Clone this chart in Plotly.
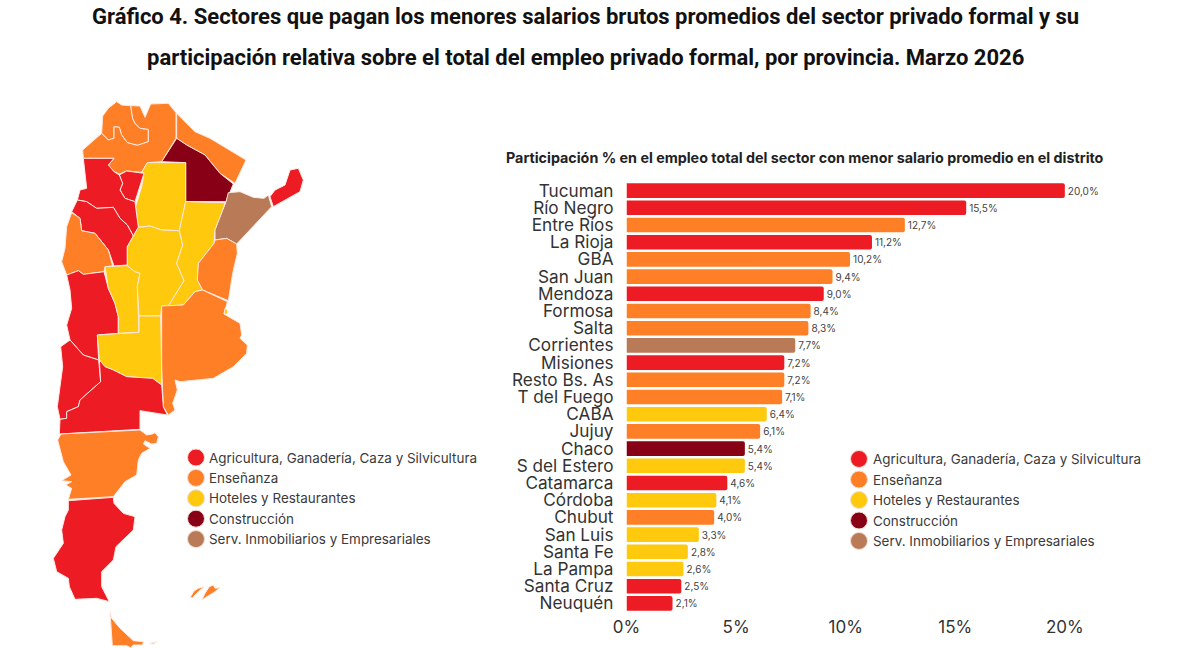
import plotly.graph_objects as go

# ---- Sectors and colours ----
sector_names = [
    "Agricultura, Ganadería, Caza y Silvicultura",
    "Enseñanza",
    "Hoteles y Restaurantes",
    "Construcción",
    "Serv. Inmobiliarios y Empresariales",
]
AGR, ENS, HOT, CON, INM = sector_names
sector_colors = {AGR: "#ED1C24", ENS: "#FF7F27", HOT: "#FFC90E", CON: "#880015", INM: "#B97A57"}

# ---- Bar chart data ----
districts = ["Tucuman", "Río Negro", "Entre Ríos", "La Rioja", "GBA", "San Juan", "Mendoza",
             "Formosa", "Salta", "Corrientes", "Misiones", "Resto Bs. As", "T del Fuego", "CABA",
             "Jujuy", "Chaco", "S del Estero", "Catamarca", "Córdoba", "Chubut", "San Luis",
             "Santa Fe", "La Pampa", "Santa Cruz", "Neuquén"]
shares = [20.0, 15.5, 12.7, 11.2, 10.2, 9.4, 9.0, 8.4, 8.3, 7.7, 7.2, 7.2, 7.1, 6.4, 6.1,
          5.4, 5.4, 4.6, 4.1, 4.0, 3.3, 2.8, 2.6, 2.5, 2.1]
district_sector = [AGR, AGR, ENS, AGR, ENS, ENS, AGR, ENS, ENS, INM, AGR, ENS, ENS, HOT, ENS,
                   CON, HOT, AGR, HOT, ENS, HOT, HOT, HOT, AGR, AGR]
x_ticks = [0, 5, 10, 15, 20]

# ---- Province outlines, in map grid units, with their sector ----
province_shapes = [
    ("Jujuy", ENS, [(188,78),(205,55),(230,35),(245,45),(272,47),(278,85),(285,100),(300,115),(325,118),(325,155),(292,166),(262,158),(245,135),(238,112),(222,110),(222,145),(205,150),(185,130)]),
    ("Salta", ENS, [(272,47),(300,48),(315,82),(332,42),(385,40),(408,68),(408,145),(365,215),(322,218),(305,247),(260,243),(238,252),(222,245),(205,225),(222,205),(130,205),(128,180),(150,160),(185,130),(205,150),(222,145),(222,110),(238,112),(245,135),(262,158),(292,166),(325,155),(325,118),(300,115),(285,100),(278,85)]),
    ("Formosa", ENS, [(410,70),(465,125),(510,145),(570,180),(618,210),(585,280),(540,250),(495,195),(440,165),(410,145)]),
    ("Chaco", CON, [(410,145),(440,165),(495,195),(540,250),(580,282),(558,335),(437,335),(437,218),(365,215)]),
    ("Santiago del Estero", HOT, [(322,218),(437,218),(437,335),(418,422),(365,420),(330,408),(295,412),(287,350),(305,290),(312,250),(305,247)]),
    ("Tucuman", AGR, [(238,255),(260,243),(312,250),(290,315),(285,335),(255,325),(240,300),(248,280)]),
    ("Catamarca", AGR, [(130,205),(222,205),(205,225),(222,245),(238,255),(248,280),(240,300),(255,325),(285,335),(295,412),(280,438),(262,405),(240,385),(220,352),(170,355),(140,335),(112,330),(120,300),(140,295),(135,255)]),
    ("La Rioja", AGR, [(112,330),(140,335),(170,355),(220,352),(240,385),(262,405),(280,438),(262,470),(262,525),(222,528),(205,480),(165,430),(125,422),(120,385),(95,365)]),
    ("San Juan", ENS, [(95,368),(120,385),(125,422),(165,430),(205,480),(218,528),(195,530),(192,545),(130,553),(115,542),(80,555),(65,515),(75,475),(80,410)]),
    ("Mendoza", AGR, [(80,555),(115,542),(130,553),(192,545),(205,595),(225,640),(235,680),(235,730),(172,735),(176,810),(130,795),(90,750),(80,705),(95,655),(90,600)]),
    ("San Luis", HOT, [(195,530),(262,527),(285,545),(300,550),(292,590),(297,727),(235,730),(235,680),(225,640),(205,595)]),
    ("Córdoba", HOT, [(262,527),(262,470),(280,438),(295,412),(330,408),(365,420),(418,422),(428,465),(410,520),(432,572),(385,648),(365,648),(362,678),(297,678),(292,590),(300,550),(285,545)]),
    ("Santa Fe", HOT, [(437,335),(555,338),(545,370),(525,420),(522,460),(475,520),(472,570),(488,600),(465,605),(430,645),(385,648),(432,572),(410,520),(428,465),(418,422)]),
    ("Corrientes", INM, [(558,335),(565,308),(600,305),(640,322),(672,325),(685,315),(695,350),(640,410),(590,462),(560,445),(525,450),(525,420),(545,370)]),
    ("Misiones", AGR, [(690,320),(705,300),(735,285),(750,240),(775,235),(790,270),(780,305),(745,325),(700,350)]),
    ("Entre Ríos", ENS, [(525,450),(560,445),(590,462),(592,490),(578,550),(565,632),(488,600),(472,570),(475,520),(522,460)]),
    ("Buenos Aires", ENS, [(365,648),(430,645),(465,605),(488,600),(562,635),(552,672),(600,700),(605,735),(600,745),(622,765),(620,790),(580,830),(520,865),(420,875),(405,870),(412,900),(398,940),(405,960),(385,975),(370,950),(365,840)]),
    ("CABA", HOT, [(555,655),(563,662),(562,672),(552,672)]),
    ("La Pampa", HOT, [(172,735),(235,730),(297,727),(297,678),(362,678),(365,840),(365,885),(338,865),(260,860),(220,840),(195,830),(178,810)]),
    ("Neuquén", AGR, [(90,750),(130,795),(176,810),(182,875),(120,930),(115,950),(80,965),(80,985),(60,988),(52,950),(60,890),(68,830),(62,770)]),
    ("Río Negro", AGR, [(178,810),(195,830),(220,840),(260,860),(338,865),(365,885),(370,950),(382,975),(300,962),(300,1018),(58,1032),(60,988),(80,985),(80,965),(115,950),(120,930),(182,875)]),
    ("Chubut", ENS, [(63,1032),(300,1020),(320,1035),(337,1032),(345,1028),(355,1040),(350,1060),(335,1062),(315,1052),(310,1062),(330,1075),(305,1090),(295,1110),(290,1155),(255,1175),(230,1205),(220,1220),(85,1228),(95,1195),(77,1185),(95,1175),(65,1172),(93,1155),(70,1115),(63,1085),(53,1050)]),
    ("Santa Cruz", AGR, [(85,1232),(220,1222),(222,1240),(250,1270),(285,1280),(280,1320),(228,1370),(220,1410),(185,1445),(185,1490),(208,1535),(170,1525),(105,1528),(88,1490),(85,1465),(50,1445),(40,1405),(70,1360),(65,1320),(75,1280),(85,1260)]),
    ("Tierra del Fuego", ENS, [(210,1565),(215,1585),(240,1615),(280,1652),(310,1655),(308,1665),(280,1665),(272,1673),(260,1667),(217,1667)]),
    ("Isla de los Estados", ENS, [(330,1660),(350,1656),(340,1662)]),
    ("Malvinas oeste", ENS, [(450,1523),(462,1503),(475,1495),(492,1490),(470,1510),(458,1523)]),
    ("Malvinas este", ENS, [(485,1530),(495,1510),(508,1490),(520,1485),(525,1495),(540,1493),(525,1505),(510,1515),(495,1523)]),
]

fig = go.Figure()

# Provinces as filled outlines on their own map axes
for name, sector, outline in province_shapes:
    closed = outline + outline[:1]
    fig.add_trace(go.Scatter(
        x=[p[0] for p in closed], y=[p[1] for p in closed],
        mode="lines", fill="toself", fillcolor=sector_colors[sector],
        line=dict(color="#FFE9E0", width=1), name=name, hoverinfo="name",
        xaxis="x2", yaxis="y2", showlegend=False))

# Horizontal bars
fig.add_trace(go.Bar(
    y=districts, x=shares, orientation="h",
    marker=dict(color=[sector_colors[s] for s in district_sector], line=dict(width=0), cornerradius=2),
    texttemplate="%{x:.1f}%", textposition="outside", cliponaxis=False,
    textfont=dict(family="Inter", size=10, color="#444444"),
    showlegend=False))

W, H = 1200, 648


def add_key(marker_x, text_x, first_y, step):
    """Draw one sector key: coloured discs with their labels beside them."""
    for i, sector in enumerate(sector_names):
        y = first_y + i * step
        fig.add_shape(type="circle", xref="paper", yref="paper",
                      x0=(marker_x - 8.5) / W, x1=(marker_x + 8.5) / W,
                      y0=1 - (y + 8.5) / H, y1=1 - (y - 8.5) / H,
                      fillcolor=sector_colors[sector], line=dict(color="#F3DDD0", width=1))
        fig.add_annotation(text=sector, xref="paper", yref="paper", x=text_x / W, y=1 - y / H,
                           xanchor="left", yanchor="middle", showarrow=False,
                           font=dict(family="Inter", size=13.45, color="#3A3A3A"))


add_key(196, 207, 457.5, 20.4)
add_key(859, 871, 459, 20.5)

# Two-line heading and the bar chart subtitle
title_lines = ["Gráfico 4. Sectores que pagan los menores salarios brutos promedios del sector privado formal y su",
               "participación relativa sobre el total del empleo privado formal, por provincia. Marzo 2026"]
for line, y in zip(title_lines, (16, 58)):
    fig.add_annotation(text=f"<b>{line}</b>", xref="paper", yref="paper", x=585 / W, y=1 - y / H,
                       xanchor="center", yanchor="middle", showarrow=False,
                       font=dict(family="Roboto", size=22, color="#111111"))
fig.add_annotation(text="<b>Participación % en el empleo total del sector con menor salario promedio en el distrito</b>",
                   xref="paper", yref="paper", x=805 / W, y=1 - 158 / H,
                   xanchor="center", yanchor="middle", showarrow=False,
                   font=dict(family="Inter", size=14.3, color="#222222"))

fig.update_layout(
    width=W, height=H, margin=dict(l=0, r=0, t=0, b=0, autoexpand=False),
    paper_bgcolor="white", plot_bgcolor="rgba(0,0,0,0)", separators=",.",
    bargap=0.15, font=dict(family="Inter"),
    xaxis=dict(domain=[626.5 / W, 1152.5 / W], range=[0, 24], tickvals=x_ticks, automargin=False,
               ticktext=[f"{v}%" for v in x_ticks], showgrid=False, zeroline=False,
               showline=False, ticks="", ticklabelstandoff=3,
               tickfont=dict(family="Inter", size=17, color="#333333"), anchor="y"),
    yaxis=dict(domain=[1 - 612 / H, 1 - 182 / H], autorange=False, range=[24.5, -0.5], automargin=False,
               type="category", categoryorder="array", categoryarray=districts,
               showgrid=False, zeroline=False, showline=False, ticks="", ticklabelstandoff=12,
               tickmode="array", tickvals=districts, ticktext=districts,
               tickfont=dict(family="Inter", size=17.2, color="#333333"), anchor="x"),
    xaxis2=dict(domain=[0, 480 / W], range=[-120, 1320], visible=False, anchor="y2", automargin=False),
    yaxis2=dict(domain=[0, 1], range=[1674, -270], visible=False, anchor="x2", automargin=False),
)

fig.write_html("out.html")
